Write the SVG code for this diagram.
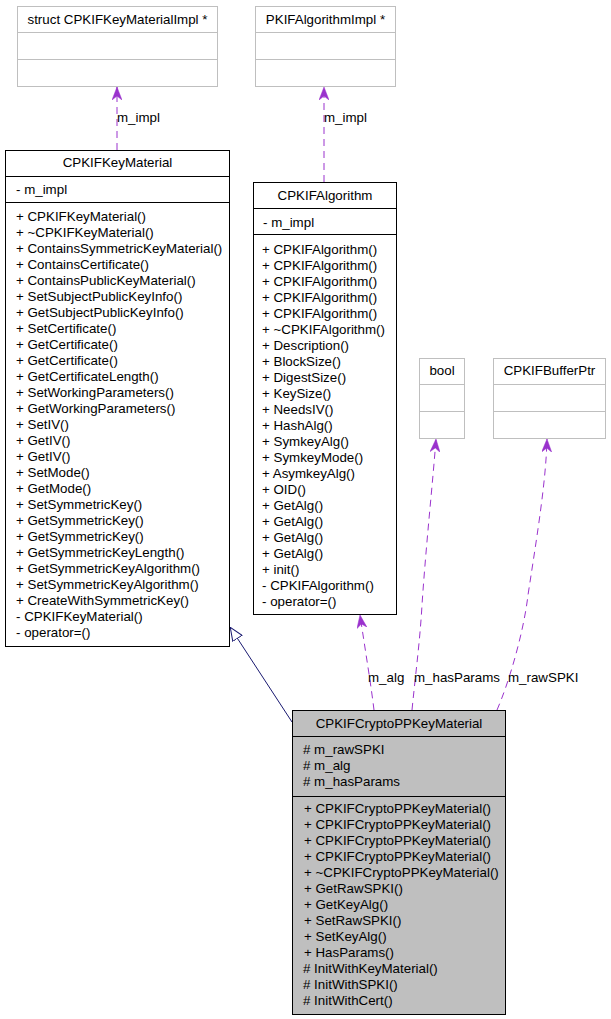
<svg xmlns="http://www.w3.org/2000/svg" width="611" height="1019" viewBox="0 0 611 1019">
<style>
text{font-family:"Liberation Sans",Arial,Helvetica,sans-serif;font-size:13.33px;fill:#000}
.c{text-anchor:middle}
.box{fill:#fff;stroke:#000;stroke-width:1}
.gbox{fill:#fff;stroke:#bfbfbf;stroke-width:1}
.sel{fill:#bfbfbf;stroke:#000;stroke-width:1}
.dv{stroke:#000;stroke-width:1}
.gdv{stroke:#bfbfbf;stroke-width:1}
.use{fill:none;stroke:#9a32cd;stroke-width:1;stroke-dasharray:7,5}
.inh{fill:none;stroke:#191970;stroke-width:1}
</style>
<defs>
<marker id="vee" viewBox="0 0 13 10" refX="13" refY="5" markerWidth="13" markerHeight="10" markerUnits="userSpaceOnUse" orient="auto">
<path d="M0,0 L13,5 L0,10 L4,5 Z" fill="#9a32cd" stroke="#9a32cd" stroke-width="0.5"/>
</marker>
<marker id="tri" viewBox="0 0 14 12" refX="14" refY="6" markerWidth="14" markerHeight="12" markerUnits="userSpaceOnUse" orient="auto">
<path d="M0.5,0.5 L13.5,6 L0.5,11.5 Z" fill="#fff" stroke="#191970" stroke-width="1"/>
</marker>
</defs>

<g id="connectors">
<path class="use" d="M117,150 L117,87" marker-end="url(#vee)"/>
<text x="117" y="122">m_impl</text>
<path class="use" d="M324,182 L324,87" marker-end="url(#vee)"/>
<text x="324" y="122">m_impl</text>
<path class="use" d="M374,710 C371,685 366,655 360,615" marker-end="url(#vee)"/>
<text x="368" y="682">m_alg</text>
<path class="use" d="M412,710 C416,670 420,640 422,605 C426,545 433,480 436,439" marker-end="url(#vee)"/>
<text x="414" y="682">m_hasParams</text>
<path class="use" d="M497,710 C510,680 524,630 528,595 C538,530 546,480 547,439" marker-end="url(#vee)"/>
<text x="508" y="682">m_rawSPKI</text>
<path class="inh" d="M292,722 L230,627" marker-end="url(#tri)"/>
</g>

<g id="node-impl">
<rect class="gbox" x="17.5" y="6.5" width="200" height="80"/>
<line class="gdv" x1="17.5" y1="32.5" x2="217.5" y2="32.5"/>
<line class="gdv" x1="17.5" y1="59.5" x2="217.5" y2="59.5"/>
<text class="c" x="117.5" y="24">struct CPKIFKeyMaterialImpl *</text>
</g>

<g id="node-algimpl">
<rect class="gbox" x="255.5" y="6.5" width="140" height="80"/>
<line class="gdv" x1="255.5" y1="32.5" x2="395.5" y2="32.5"/>
<line class="gdv" x1="255.5" y1="59.5" x2="395.5" y2="59.5"/>
<text class="c" x="325.5" y="24">PKIFAlgorithmImpl *</text>
</g>

<g id="node-keymaterial">
<rect class="box" x="5.5" y="150.5" width="224" height="496"/>
<line class="dv" x1="5.5" y1="176.5" x2="229.5" y2="176.5"/>
<line class="dv" x1="5.5" y1="202.5" x2="229.5" y2="202.5"/>
<text class="c" x="117.5" y="167">CPKIFKeyMaterial</text>
<text x="16" y="194">- m_impl</text>
<text x="16" y="221">+ CPKIFKeyMaterial()</text>
<text x="16" y="237">+ ~CPKIFKeyMaterial()</text>
<text x="16" y="253">+ ContainsSymmetricKeyMaterial()</text>
<text x="16" y="269">+ ContainsCertificate()</text>
<text x="16" y="285">+ ContainsPublicKeyMaterial()</text>
<text x="16" y="301">+ SetSubjectPublicKeyInfo()</text>
<text x="16" y="317">+ GetSubjectPublicKeyInfo()</text>
<text x="16" y="333">+ SetCertificate()</text>
<text x="16" y="349">+ GetCertificate()</text>
<text x="16" y="365">+ GetCertificate()</text>
<text x="16" y="381">+ GetCertificateLength()</text>
<text x="16" y="397">+ SetWorkingParameters()</text>
<text x="16" y="413">+ GetWorkingParameters()</text>
<text x="16" y="429">+ SetIV()</text>
<text x="16" y="445">+ GetIV()</text>
<text x="16" y="461">+ GetIV()</text>
<text x="16" y="477">+ SetMode()</text>
<text x="16" y="493">+ GetMode()</text>
<text x="16" y="509">+ SetSymmetricKey()</text>
<text x="16" y="525">+ GetSymmetricKey()</text>
<text x="16" y="541">+ GetSymmetricKey()</text>
<text x="16" y="557">+ GetSymmetricKeyLength()</text>
<text x="16" y="573">+ GetSymmetricKeyAlgorithm()</text>
<text x="16" y="589">+ SetSymmetricKeyAlgorithm()</text>
<text x="16" y="605">+ CreateWithSymmetricKey()</text>
<text x="16" y="621">- CPKIFKeyMaterial()</text>
<text x="16" y="637">- operator=()</text>
</g>

<g id="node-algorithm">
<rect class="box" x="253.5" y="182.5" width="143" height="432"/>
<line class="dv" x1="253.5" y1="208.5" x2="396.5" y2="208.5"/>
<line class="dv" x1="253.5" y1="234.5" x2="396.5" y2="234.5"/>
<text class="c" x="325" y="200">CPKIFAlgorithm</text>
<text x="263" y="227">- m_impl</text>
<text x="262" y="254">+ CPKIFAlgorithm()</text>
<text x="262" y="270">+ CPKIFAlgorithm()</text>
<text x="262" y="286">+ CPKIFAlgorithm()</text>
<text x="262" y="302">+ CPKIFAlgorithm()</text>
<text x="262" y="318">+ CPKIFAlgorithm()</text>
<text x="262" y="334">+ ~CPKIFAlgorithm()</text>
<text x="262" y="350">+ Description()</text>
<text x="262" y="366">+ BlockSize()</text>
<text x="262" y="382">+ DigestSize()</text>
<text x="262" y="398">+ KeySize()</text>
<text x="262" y="414">+ NeedsIV()</text>
<text x="262" y="430">+ HashAlg()</text>
<text x="262" y="446">+ SymkeyAlg()</text>
<text x="262" y="462">+ SymkeyMode()</text>
<text x="262" y="478">+ AsymkeyAlg()</text>
<text x="262" y="494">+ OID()</text>
<text x="262" y="510">+ GetAlg()</text>
<text x="262" y="526">+ GetAlg()</text>
<text x="262" y="542">+ GetAlg()</text>
<text x="262" y="558">+ GetAlg()</text>
<text x="262" y="574">+ init()</text>
<text x="262" y="590">- CPKIFAlgorithm()</text>
<text x="262" y="606">- operator=()</text>
</g>

<g id="node-bool">
<rect class="gbox" x="419.5" y="358.5" width="45" height="80"/>
<line class="gdv" x1="419.5" y1="384.5" x2="464.5" y2="384.5"/>
<line class="gdv" x1="419.5" y1="411.5" x2="464.5" y2="411.5"/>
<text class="c" x="442" y="375">bool</text>
</g>

<g id="node-bufferptr">
<rect class="gbox" x="493.5" y="358.5" width="112" height="80"/>
<line class="gdv" x1="493.5" y1="384.5" x2="605.5" y2="384.5"/>
<line class="gdv" x1="493.5" y1="411.5" x2="605.5" y2="411.5"/>
<text class="c" x="549.5" y="375">CPKIFBufferPtr</text>
</g>

<g id="node-cryptopp">
<rect class="sel" x="292.5" y="710.5" width="213" height="304"/>
<line class="dv" x1="292.5" y1="736.5" x2="505.5" y2="736.5"/>
<line class="dv" x1="292.5" y1="796.5" x2="505.5" y2="796.5"/>
<text class="c" x="399" y="728">CPKIFCryptoPPKeyMaterial</text>
<text x="303" y="754"># m_rawSPKI</text>
<text x="303" y="770"># m_alg</text>
<text x="303" y="786"># m_hasParams</text>
<text x="304" y="813">+ CPKIFCryptoPPKeyMaterial()</text>
<text x="304" y="829">+ CPKIFCryptoPPKeyMaterial()</text>
<text x="304" y="845">+ CPKIFCryptoPPKeyMaterial()</text>
<text x="304" y="861">+ CPKIFCryptoPPKeyMaterial()</text>
<text x="304" y="877">+ ~CPKIFCryptoPPKeyMaterial()</text>
<text x="304" y="893">+ GetRawSPKI()</text>
<text x="304" y="909">+ GetKeyAlg()</text>
<text x="304" y="925">+ SetRawSPKI()</text>
<text x="304" y="941">+ SetKeyAlg()</text>
<text x="304" y="957">+ HasParams()</text>
<text x="303" y="973"># InitWithKeyMaterial()</text>
<text x="303" y="989"># InitWithSPKI()</text>
<text x="303" y="1005"># InitWithCert()</text>
</g>
</svg>
